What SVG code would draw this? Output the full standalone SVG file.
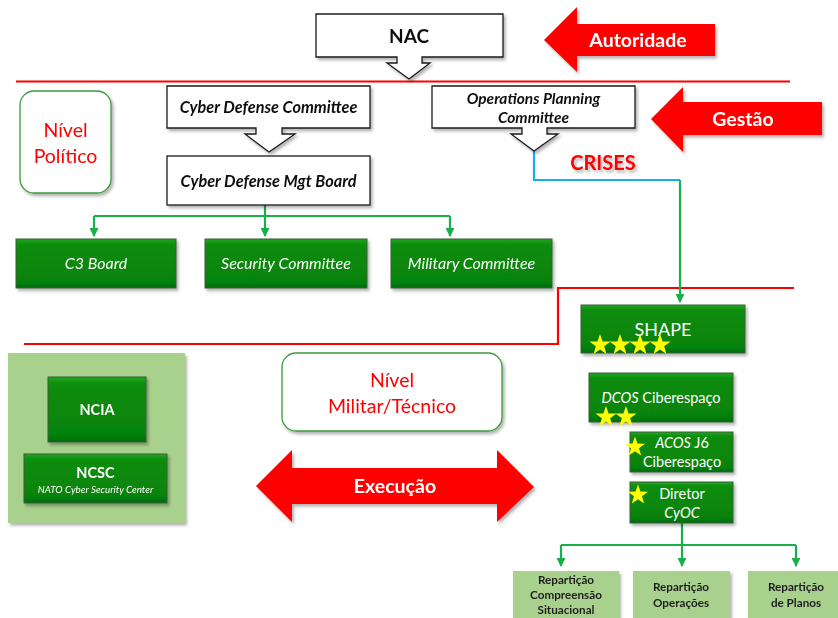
<svg xmlns="http://www.w3.org/2000/svg" xmlns:xlink="http://www.w3.org/1999/xlink" width="838" height="618" viewBox="0 0 838 618">
<style>
text{font-family:Lato,"Open Sans","Liberation Sans",sans-serif}
.wb{fill:#fff;stroke:#1a1a1a;stroke-width:1.3}
.wt{font-size:16.3px;font-weight:bold;font-style:italic;fill:#111;text-anchor:middle}
.gb{fill:url(#gg);stroke:#3a5f3a;stroke-width:1}
.gt{fill:#fff;text-anchor:middle}
.lg{fill:#a9d18e}
.lt{font-size:11.7px;font-weight:bold;fill:#1f1f1f;text-anchor:middle}
.red{fill:#ff0000}
.at{font-size:19.5px;font-weight:bold;fill:#fff;text-anchor:middle}
.lvl{fill:#fff;stroke:#3a9a3a;stroke-width:1.3}
.lvt{font-size:19.5px;fill:#ff0000;text-anchor:middle}
.rl{fill:none;stroke:#ff0000;stroke-width:2.2}
.gl{fill:none;stroke:#18b04a;stroke-width:2.2}
.bl{fill:none;stroke:#15b0e8;stroke-width:2.2}
.star{fill:#ffff00}
</style>
<defs>
<linearGradient id="gg" x1="0" y1="0" x2="0" y2="1">
<stop offset="0" stop-color="#22a622"/>
<stop offset="0.12" stop-color="#0a8c0a"/>
<stop offset="0.88" stop-color="#06830a"/>
<stop offset="1" stop-color="#046a06"/>
</linearGradient>
<filter id="sh" x="-10%" y="-10%" width="125%" height="135%">
<feDropShadow dx="2" dy="2.5" stdDeviation="1.5" flood-color="#000" flood-opacity="0.3"/>
</filter>
<marker id="ga" viewBox="0 0 10 10" refX="9" refY="5" markerWidth="4" markerHeight="4" orient="auto">
<path d="M0,0 L10,5 L0,10 Z" fill="#18b04a"/>
</marker>
<polygon id="star" points="0,-10 2.35,-3.24 9.51,-3.09 3.8,1.24 5.88,8.09 0,4 -5.88,8.09 -3.8,1.24 -9.51,-3.09 -2.35,-3.24"/>
</defs>

<g id="connectors">
<path class="rl" d="M16,81.5 H790"/>
<path class="rl" d="M24,344 H558 V288 H794"/>
<path class="bl" d="M534,151 V180 H680"/>
<path class="gl" d="M680,180 V302" marker-end="url(#ga)"/>
<path class="gl" d="M265,205 V236" marker-end="url(#ga)"/>
<path class="gl" d="M94,216 H450"/>
<path class="gl" d="M94,216 V236" marker-end="url(#ga)"/>
<path class="gl" d="M450,216 V236" marker-end="url(#ga)"/>
<path class="gl" d="M682,523 V566" marker-end="url(#ga)"/>
<path class="gl" d="M561,545 H796"/>
<path class="gl" d="M561,545 V566" marker-end="url(#ga)"/>
<path class="gl" d="M796,545 V566" marker-end="url(#ga)"/>
</g>

<g id="nac" filter="url(#sh)">
<path class="wb" d="M316,14 H503 V57 H422 V63 H430 L409,79 L387,63 H397 V57 H316 Z"/>
<text x="409" y="43" style="font-size:19px;font-weight:bold;fill:#111;text-anchor:middle">NAC</text>
</g>

<g id="autoridade" filter="url(#sh)">
<path class="red" d="M544,40 L577,7 V24 H715 V56 H577 V72 Z"/>
<text class="at" x="638" y="47">Autoridade</text>
</g>

<g id="gestao" filter="url(#sh)">
<path class="red" d="M651,119 L683,87 V102 H822 V135 H683 V152 Z"/>
<text class="at" x="743" y="126">Gestão</text>
</g>

<g id="nivel-politico" filter="url(#sh)">
<rect class="lvl" x="20" y="91" width="91" height="102" rx="14"/>
<text class="lvt" x="65.5" y="137">Nível</text>
<text class="lvt" x="65.5" y="163">Político</text>
</g>

<g id="cdc" filter="url(#sh)">
<path class="wb" d="M167,86 H370 V128 H282 V134 H295 L269,152 L245,134 H256 V128 H167 Z"/>
<text class="wt" x="268.5" y="113">Cyber Defense Committee</text>
</g>

<g id="cdmb" filter="url(#sh)">
<rect class="wb" x="167" y="156" width="203" height="49"/>
<text class="wt" x="268.5" y="187">Cyber Defense Mgt Board</text>
</g>

<g id="opc" filter="url(#sh)">
<path class="wb" d="M432,86 H635 V128 H547 V134 H558 L534,151 L511,134 H522 V128 H432 Z"/>
<text class="wt" x="533.5" y="104" style="font-size:15.5px">Operations Planning</text>
<text class="wt" x="533.5" y="123" style="font-size:15.5px">Committee</text>
</g>

<g id="crises">
<text x="603" y="170" style="font-size:20px;font-weight:bold;fill:#ff0000;text-anchor:middle" filter="url(#sh)">CRISES</text>
</g>

<g id="c3board" filter="url(#sh)">
<rect class="gb" x="16" y="239" width="160" height="49"/>
<text class="gt" x="96" y="269" style="font-size:16px;font-style:italic">C3 Board</text>
</g>
<g id="security-committee" filter="url(#sh)">
<rect class="gb" x="205" y="239" width="162" height="49"/>
<text class="gt" x="286" y="269" style="font-size:16px;font-style:italic">Security Committee</text>
</g>
<g id="military-committee" filter="url(#sh)">
<rect class="gb" x="391" y="239" width="161" height="49"/>
<text class="gt" x="471.5" y="269" style="font-size:16px;font-style:italic">Military Committee</text>
</g>

<g id="shape">
<rect class="gb" x="581" y="305" width="164" height="48" filter="url(#sh)"/>
<text class="gt" x="663" y="336" style="font-size:18px">SHAPE</text>
<use href="#star" class="star" transform="translate(600,345) scale(1.1)"/>
<use href="#star" class="star" transform="translate(620,345) scale(1.1)"/>
<use href="#star" class="star" transform="translate(640,345) scale(1.1)"/>
<use href="#star" class="star" transform="translate(660,345) scale(1.1)"/>
</g>

<g id="dcos">
<rect class="gb" x="589" y="373" width="144" height="49" filter="url(#sh)"/>
<text class="gt" x="661" y="403" style="font-size:14.5px"><tspan font-style="italic">DCOS</tspan> Ciberespaço</text>
<use href="#star" class="star" transform="translate(606,417) scale(1.1)"/>
<use href="#star" class="star" transform="translate(626,417) scale(1.1)"/>
</g>

<g id="acos">
<rect class="gb" x="630" y="432" width="103" height="40" filter="url(#sh)"/>
<text class="gt" x="682" y="448" style="font-size:14.5px"><tspan font-style="italic">ACOS</tspan> J6</text>
<text class="gt" x="682" y="467" style="font-size:14.5px">Ciberespaço</text>
<use href="#star" class="star" transform="translate(635,447) scale(1.05)"/>
</g>

<g id="diretor">
<rect class="gb" x="630" y="482" width="103" height="41" filter="url(#sh)"/>
<text class="gt" x="682" y="499" style="font-size:14.5px">Diretor</text>
<text class="gt" x="682" y="518" style="font-size:14.5px;font-style:italic">CyOC</text>
<use href="#star" class="star" transform="translate(638,495) scale(1.05)"/>
</g>

<g id="rep-compreensao" filter="url(#sh)">
<rect class="lg" x="513" y="571" width="106" height="52"/>
<text class="lt" x="566" y="584">Repartição</text>
<text class="lt" x="566" y="599">Compreensão</text>
<text class="lt" x="566" y="614">Situacional</text>
</g>
<g id="rep-operacoes" filter="url(#sh)">
<rect class="lg" x="633" y="571" width="97" height="52"/>
<text class="lt" x="681" y="591">Repartição</text>
<text class="lt" x="681" y="607">Operações</text>
</g>
<g id="rep-planos" filter="url(#sh)">
<rect class="lg" x="748" y="571" width="100" height="52"/>
<text class="lt" x="796" y="591">Repartição</text>
<text class="lt" x="796" y="607">de Planos</text>
</g>

<g id="agencies">
<rect class="lg" x="8" y="353" width="177" height="170" filter="url(#sh)"/>
<g id="ncia" filter="url(#sh)">
<rect class="gb" x="48" y="377" width="98" height="65"/>
<text class="gt" x="97" y="415" style="font-size:14.5px;font-weight:bold">NCIA</text>
</g>
<g id="ncsc" filter="url(#sh)">
<rect class="gb" x="24" y="454" width="143" height="49"/>
<text class="gt" x="95.5" y="478" style="font-size:14.5px;font-weight:bold">NCSC</text>
<text class="gt" x="95.5" y="493" style="font-size:9.8px;font-style:italic">NATO Cyber Security Center</text>
</g>
</g>

<g id="nivel-militar" filter="url(#sh)">
<rect class="lvl" x="282" y="353" width="220" height="78" rx="14"/>
<text class="lvt" x="392" y="387">Nível</text>
<text class="lvt" x="392" y="413">Militar/Técnico</text>
</g>

<g id="execucao" filter="url(#sh)">
<path class="red" d="M256,486 L292,450 V468 H497 V450 L534,487 L497,522 V504 H292 V522 Z"/>
<text class="at" x="395" y="493">Execução</text>
</g>
</svg>
